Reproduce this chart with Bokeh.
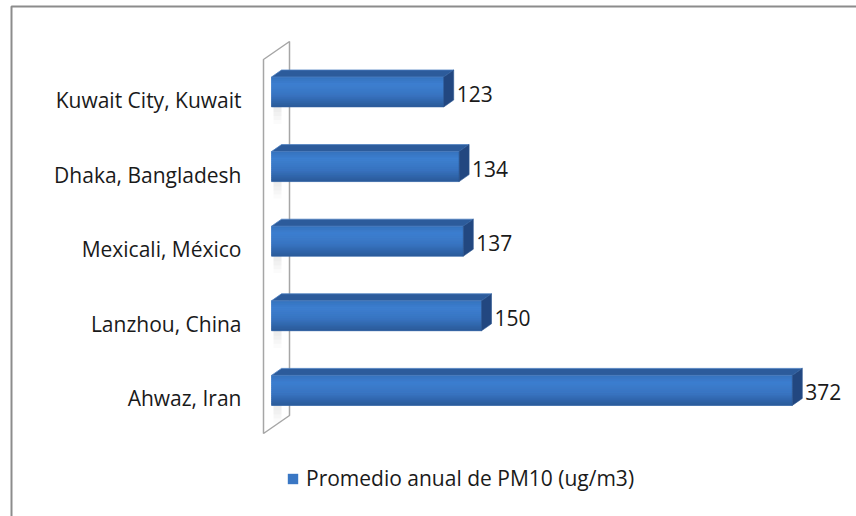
from bokeh.plotting import figure
from bokeh.models import Range1d, Legend, LegendItem
from bokeh.core.properties import value
from bokeh.embed import file_html
from bokeh.resources import INLINE

# ---- data ----
cities = ["Kuwait City, Kuwait", "Dhaka, Bangladesh", "Mexicali, México", "Lanzhou, China", "Ahwaz, Iran"]
pm10 = [123, 134, 137, 150, 372]
series_name = "Promedio anual de PM10 (ug/m3)"

W, H = 856, 516
X0, SX = 271.0, 1.40       # pixel of value 0, pixels per unit
Y0, SY = 91.5, 74.6        # pixel of first category centre, pixels per category
FONT = "Open Sans"
FS = "21px"

def px2x(px):
    return (px - X0) / SX

def py2y(py):
    return (py - Y0) / SY

p = figure(width=W, height=H, output_backend="svg", toolbar_location=None,
           x_range=Range1d(px2x(0), px2x(W)), y_range=Range1d(py2y(H), py2y(0)),
           min_border=0, outline_line_color=None)
p.xaxis.visible = False
p.yaxis.visible = False
p.xgrid.visible = False
p.ygrid.visible = False
p.background_fill_color = "white"
p.border_fill_color = "white"

# chart border (top and left visible)
p.line([px2x(11), px2x(11), px2x(W + 10)], [py2y(H + 10), py2y(6), py2y(6)],
       line_color="#8c8c8c", line_width=2)

# back wall
wl, wr = px2x(263), px2x(289)
p.patch([wl, wr, wr, wl], [py2y(59), py2y(41), py2y(415), py2y(433)],
        fill_color="white", line_color="#a6a6a6", line_width=1.5)

n = len(cities)
bh = 30.0 / SY
dx = 10.0 / SX
dy = 7.0 / SY

# shadows on wall
for i in range(n):
    yb = i + bh / 2
    for k in range(6):
        a = 0.22 * (1 - k / 6)
        p.quad(left=[px2x(273)], right=[px2x(281)],
               top=[yb - dy + k * 4 / SY], bottom=[yb - dy + (k + 1) * 4 / SY],
               fill_color="#808080", fill_alpha=a, line_color=None)

def lerp(c1, c2, t):
    a = [int(c1[j:j + 2], 16) for j in (1, 3, 5)]
    b = [int(c2[j:j + 2], 16) for j in (1, 3, 5)]
    return "#%02x%02x%02x" % tuple(int(round(a[m] + (b[m] - a[m]) * t)) for m in range(3))

stops = [(0.0, "#3672be"), (0.25, "#3e80d0"), (0.6, "#3975c2"), (1.0, "#2b5a99")]

def grad(t):
    for (t1, c1), (t2, c2) in zip(stops[:-1], stops[1:]):
        if t <= t2:
            return lerp(c1, c2, (t - t1) / (t2 - t1))
    return stops[-1][1]

# front faces (base, used for legend)
front = p.quad(left=[0] * n, right=pm10,
               top=[i - bh / 2 for i in range(n)], bottom=[i + bh / 2 for i in range(n)],
               fill_color="#3a77c4", line_color=None)

NS = 15
L, R, T, B, C = [], [], [], [], []
for i, v in enumerate(pm10):
    for k in range(NS):
        L.append(0); R.append(v)
        T.append(i - bh / 2 + k * bh / NS)
        B.append(i - bh / 2 + (k + 1) * bh / NS)
        C.append(grad((k + 0.5) / NS))
p.quad(left=L, right=R, top=T, bottom=B, fill_color=C, line_color=C, line_width=0.5)

# top and side faces
txs, tys, sxs, sys_ = [], [], [], []
for i, v in enumerate(pm10):
    yt = i - bh / 2
    yb = i + bh / 2
    txs.append([0, v, v + dx, dx]); tys.append([yt, yt, yt - dy, yt - dy])
    sxs.append([v, v + dx, v + dx, v]); sys_.append([yt, yt - dy, yb - dy, yb])
p.patches(txs, tys, fill_color="#2c5b9b", line_color="#4d7fc0", line_width=0.8)
p.patches(sxs, sys_, fill_color="#224780", line_color="#2a5590", line_width=0.6)

# value labels
p.text(x=[v + dx + 3 / SX for v in pm10], y=[i + 2 / SY for i in range(n)],
       text=[str(v) for v in pm10], text_align="left", text_baseline="middle",
       text_font=value(FONT), text_font_size=FS, text_color="#1a1a1a")

# category labels
p.text(x=[px2x(241)] * n, y=[i + 8 / SY for i in range(n)], text=cities,
       text_align="right", text_baseline="middle",
       text_font=value(FONT), text_font_size=FS, text_color="#1a1a1a")

legend = Legend(items=[LegendItem(label=series_name, renderers=[front])],
                location=(286, 24), orientation="horizontal",
                glyph_width=13, glyph_height=13, label_standoff=7,
                padding=0, margin=0, border_line_color=None,
                background_fill_alpha=0,
                label_text_font=FONT, label_text_font_size=FS,
                label_text_color="#1a1a1a")
p.add_layout(legend, "center")

open("out.html", "w").write(file_html(p, INLINE))
